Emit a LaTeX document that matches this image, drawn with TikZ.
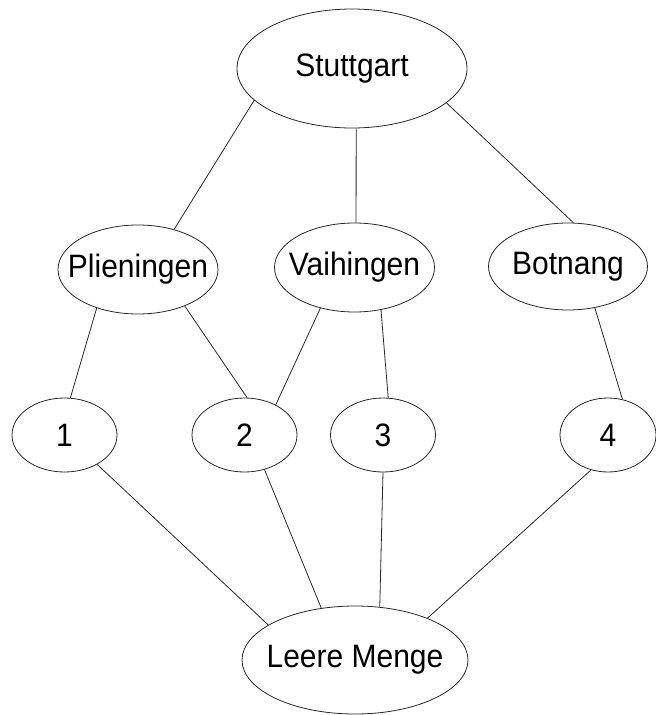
\documentclass[tikz,border=0pt]{standalone}
\usepackage{fontspec}
\usepackage{graphicx}
\setmainfont{Liberation Sans}
\usetikzlibrary{shapes.geometric}
% labels are set slightly taller than the font's natural shape; the zero-width
% box lets the minimum size alone fix each ellipse
\newcommand\talltext[1]{\makebox[0pt]{\scalebox{1}[1.08]{#1}}}
\begin{document}
\begin{tikzpicture}[x=1pt,y=-1pt,
  oval/.style={draw=black!85, ellipse, inner sep=0pt, line width=0.8pt,
    font=\fontsize{30}{36}\selectfont},
  town/.style={oval, minimum width=160, minimum height=89},
  part/.style={oval, minimum width=105, minimum height=74},
  link/.style={draw=black!85, line width=0.8pt}]
\useasboundingbox (0,0) rectangle (656,715);

% top level
\node[oval, minimum width=230, minimum height=119] (stg) at (352,68.5) {\talltext{Stuttgart}};

% districts
\node[town] (pli) at (138,269.5) {\talltext{Plieningen}};
\node[town] (vai) at (354.5,267.5) {\talltext{Vaihingen}};
\node[town, minimum width=159, minimum height=87] (bot) at (568,266.5) {\talltext{Botnang}};

% parts
\node[part] (p1) at (64.5,435) {\talltext{1}};
\node[part] (p2) at (244.5,435) {\talltext{2}};
\node[part] (p3) at (383,435) {\talltext{3}};
\node[part, minimum width=96] (p4) at (608,435) {\talltext{4}};

% empty set
\node[oval, minimum width=226, minimum height=108] (emp) at (355,660) {\talltext{Leere Menge}};

% connectors
\draw[link] (stg.198) -- (pli.48);
\draw[link] (stg.274) -- (vai.88);
\draw[link] (stg.340) -- (bot.83);
\draw[link] (pli.223) -- (p1.81);
\draw[link] (pli.322) -- (p2.86);
\draw[link] (vai.230) -- (p2.44);
\draw[link] (vai.302) -- (p3.82);
\draw[link] (bot.303) -- (p4.68);
\draw[link] (p1.318) -- (emp.158);
\draw[link] (p2.300) -- (emp.123);
\draw[link] (p3.270) -- (emp.65);
\draw[link] (p4.244) -- (emp.30);
\end{tikzpicture}
\end{document}
